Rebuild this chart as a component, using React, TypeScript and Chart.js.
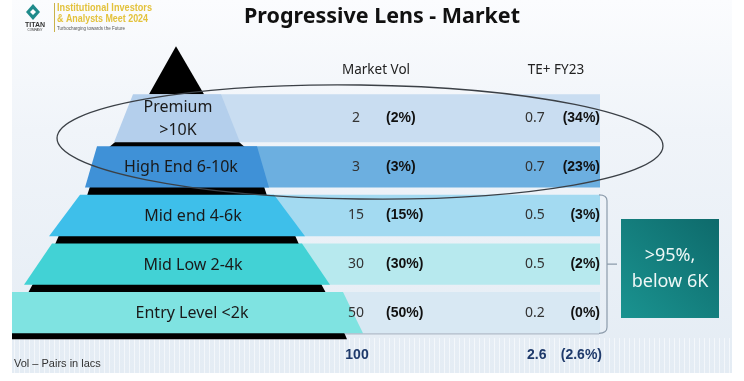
import React, { useEffect, useRef } from "react";
import { Chart, registerables } from "chart.js";

Chart.register(...registerables);

// ---------------- data ----------------
const tiers = ["Premium >10K", "High End 6-10k", "Mid end 4-6k", "Mid Low 2-4k", "Entry Level <2k"];
const tierLabelLines = [["Premium", ">10K"], ["High End 6-10k"], ["Mid end 4-6k"], ["Mid Low 2-4k"], ["Entry Level <2k"]];
const marketVol = [2, 3, 15, 30, 50];
const marketVolShare = [2, 3, 15, 30, 50];
const teVol = [0.7, 0.7, 0.5, 0.5, 0.2];
const teShare = [34, 23, 3, 2, 0];
const totalMarketVol = 100;
const totalTeVol = 2.6;
const totalTeShare = 2.6;
const columnHeaders = ["Market Vol", "TE+ FY23"];
const calloutLines = [">95%,", "below 6K"];
const footnote = "Vol \u2013 Pairs in lacs";
const title = "Progressive Lens - Market";

// ---------------- layout / style ----------------
const W = 744;
const H = 381;
const SLIDE = { l: 12, r: 732, t: 0, b: 373 };
const BAND_RANGE = [177, 600];
const BAND_COLORS = ["#c9ddf1", "#6cafe0", "#a3daf1", "#b7e9ee", "#d8e8f3"];
const TIER_COLORS = ["#b4cfec", "#3f91d7", "#3ebfea", "#42d2d5", "#7fe3e1"];
const PYR_CX = 177;
const TIER_HALF = [[44, 63], [80, 92], [97, 128], [125, 153], [166, 186]];
const STRIP_HALF = [[61, 68], [87, 90], [118, 122], [144, 149], [167, 170]];
const LABEL_X = [178, 181, 193, 193, 192];
const COL = { mvVal: 356, mvPct: 386, teVal: 525, tePctRight: 600 };

const fmt = (v: number) => String(v);

function trap(ctx: CanvasRenderingContext2D, cx: number, top: number, bot: number, ht: number, hb: number, color: string) {
  ctx.beginPath();
  ctx.moveTo(cx - ht, top);
  ctx.lineTo(cx + ht, top);
  ctx.lineTo(cx + hb, bot);
  ctx.lineTo(cx - hb, bot);
  ctx.closePath();
  ctx.fillStyle = color;
  ctx.fill();
}

const bgPlugin = {
  id: "bg",
  beforeDraw(chart: any) {
    const ctx = chart.ctx as CanvasRenderingContext2D;
    ctx.save();
    ctx.fillStyle = "#ffffff";
    ctx.fillRect(0, 0, W, H);
    const g = ctx.createLinearGradient(0, SLIDE.t, 0, SLIDE.b);
    g.addColorStop(0, "#fbfcfe");
    g.addColorStop(0.35, "#f0f4f9");
    g.addColorStop(1, "#e4ecf4");
    ctx.fillStyle = g;
    ctx.fillRect(SLIDE.l, SLIDE.t, SLIDE.r - SLIDE.l, SLIDE.b - SLIDE.t);
    // faint vertical stripes at the bottom
    ctx.strokeStyle = "rgba(255,255,255,0.55)";
    ctx.lineWidth = 1;
    for (let x = SLIDE.l + 2; x < SLIDE.r; x += 5) {
      ctx.beginPath();
      ctx.moveTo(x + 0.5, 338);
      ctx.lineTo(x + 0.5, SLIDE.b);
      ctx.stroke();
    }

    // logo
    ctx.fillStyle = "#1f8b8b";
    ctx.beginPath();
    ctx.moveTo(33, 4);
    ctx.lineTo(40, 12);
    ctx.lineTo(33, 20);
    ctx.lineTo(26, 12);
    ctx.closePath();
    ctx.fill();
    ctx.fillStyle = "#ffffff";
    ctx.beginPath();
    ctx.moveTo(33, 9);
    ctx.lineTo(36, 12);
    ctx.lineTo(33, 15);
    ctx.lineTo(30, 12);
    ctx.closePath();
    ctx.fill();
    ctx.fillStyle = "#333";
    ctx.font = "bold 7px 'Liberation Sans'";
    ctx.textAlign = "center";
    ctx.textBaseline = "middle";
    ctx.fillText("TITAN", 35, 25);
    ctx.font = "3px 'Liberation Sans'";
    ctx.fillText("COMPANY", 35, 30);
    ctx.strokeStyle = "#c9b24a";
    ctx.beginPath();
    ctx.moveTo(54.5, 3);
    ctx.lineTo(54.5, 32);
    ctx.stroke();
    ctx.textAlign = "left";
    ctx.fillStyle = "#e3c23c";
    ctx.font = "bold 10px 'Liberation Sans'";
    ctx.fillText("Institutional Investors", 57, 8, 95);
    ctx.fillText("& Analysts Meet 2024", 57, 19, 91);
    ctx.fillStyle = "#555";
    ctx.font = "5px 'Liberation Sans'";
    ctx.fillText("Turbocharging towards the Future", 57, 29, 68);

    // title
    ctx.fillStyle = "#111";
    ctx.font = "bold 21.5px 'Noto Sans'";
    ctx.textAlign = "center";
    ctx.fillText(title, 382, 17, 276);
    ctx.restore();
  },
};

function rowGeom(chart: any, i: number) {
  const ds = i === 0 ? 0 : 1;
  const el = chart.getDatasetMeta(ds).data[i];
  const p = el.getProps(["y", "height"], true);
  return { y: p.y, top: p.y - p.height / 2, bot: p.y + p.height / 2 };
}

const overlayPlugin = {
  id: "overlay",
  afterDatasetsDraw(chart: any) {
    const ctx = chart.ctx as CanvasRenderingContext2D;
    const xs = chart.scales.x;
    const ys = chart.scales.y;
    const X = (v: number) => xs.getPixelForValue(v);
    const step = ys.getPixelForValue(1) - ys.getPixelForValue(0);
    ctx.save();
    ctx.beginPath();
    ctx.rect(SLIDE.l, SLIDE.t, SLIDE.r - SLIDE.l, SLIDE.b - SLIDE.t);
    ctx.clip();

    const rows = tiers.map((_, i) => rowGeom(chart, i));
    const cx = X(PYR_CX);

    // black apex triangle
    ctx.fillStyle = "#000";
    ctx.beginPath();
    ctx.moveTo(cx - 1, rows[0].top - 48);
    ctx.lineTo(cx + 27, rows[0].top);
    ctx.lineTo(cx - 28, rows[0].top);
    ctx.closePath();
    ctx.fill();
    // black strips
    rows.forEach((r, i) => {
      const nextTop = i < rows.length - 1 ? rows[i + 1].top : r.bot + 5;
      trap(ctx, cx, r.bot - 1, nextTop + 1, STRIP_HALF[i][0], STRIP_HALF[i][1], "#000");
    });
    // tiers
    rows.forEach((r, i) => {
      trap(ctx, cx, r.top, r.bot, TIER_HALF[i][0], TIER_HALF[i][1], TIER_COLORS[i]);
    });
    // tier labels
    ctx.fillStyle = "#1a1a1a";
    ctx.font = "16px 'Noto Sans'";
    ctx.textAlign = "center";
    ctx.textBaseline = "middle";
    rows.forEach((r, i) => {
      const lines = tierLabelLines[i];
      const lh = 23;
      lines.forEach((t, k) => {
        ctx.fillText(t, X(LABEL_X[i]), r.y + 1 + (k - (lines.length - 1) / 2) * lh);
      });
    });

    // headers
    ctx.fillStyle = "#222";
    ctx.font = "13.5px 'Noto Sans'";
    const hy = rows[0].y - step;
    ctx.fillText(columnHeaders[0], X(376), hy);
    ctx.fillText(columnHeaders[1], X(556), hy);

    // values
    rows.forEach((r, i) => {
      ctx.fillStyle = "#333";
      ctx.font = "14px 'Noto Sans'";
      ctx.textAlign = "center";
      ctx.fillText(fmt(marketVol[i]), X(COL.mvVal), r.y);
      ctx.textAlign = "left";
      ctx.fillText(fmt(teVol[i]), X(COL.teVal), r.y);
      ctx.fillStyle = "#111";
      ctx.font = "bold 14px 'Liberation Sans'";
      ctx.fillText(`(${fmt(marketVolShare[i])}%)`, X(COL.mvPct), r.y);
      ctx.textAlign = "right";
      ctx.fillText(`(${fmt(teShare[i])}%)`, X(COL.tePctRight), r.y);
    });
    // totals
    const ty = rows[4].y + step * 0.875;
    ctx.fillStyle = "#1f3a6b";
    ctx.font = "bold 14px 'Liberation Sans'";
    ctx.textAlign = "center";
    ctx.fillText(fmt(totalMarketVol), X(COL.mvVal + 1), ty);
    ctx.textAlign = "left";
    ctx.fillText(fmt(totalTeVol), X(COL.teVal + 2), ty);
    ctx.textAlign = "right";
    ctx.fillText(`(${fmt(totalTeShare)}%)`, X(COL.tePctRight + 2), ty);

    // footnote
    ctx.fillStyle = "#333";
    ctx.font = "11px 'Liberation Sans'";
    ctx.textAlign = "left";
    ctx.fillText(footnote, X(14), ty + 9);

    // ellipse
    ctx.strokeStyle = "#3b4046";
    ctx.lineWidth = 1.3;
    ctx.beginPath();
    ctx.ellipse(X(360), 142, 303, 57, 0.013, 0, Math.PI * 2);
    ctx.stroke();

    // bracket
    const bTop = rows[2].top;
    const bBot = rows[4].bot;
    const bx = X(607);
    ctx.strokeStyle = "#8c9bab";
    ctx.lineWidth = 1.2;
    ctx.beginPath();
    ctx.moveTo(X(599), bTop);
    ctx.quadraticCurveTo(bx, bTop, bx, bTop + 6);
    ctx.lineTo(bx, bBot - 6);
    ctx.quadraticCurveTo(bx, bBot, X(599), bBot);
    ctx.moveTo(bx, rows[3].y);
    ctx.lineTo(X(617), rows[3].y);
    ctx.stroke();
    ctx.strokeStyle = "rgba(140,155,171,0.6)";
    ctx.beginPath();
    ctx.moveTo(X(345), bBot + 0.5);
    ctx.lineTo(X(599), bBot + 0.5);
    ctx.stroke();

    // callout box
    const bx0 = X(621), bx1 = X(719), by0 = 219, by1 = 318;
    const g = ctx.createLinearGradient(bx0, by1, bx1, by0);
    g.addColorStop(0, "#1a9390");
    g.addColorStop(1, "#0e6a6b");
    ctx.fillStyle = g;
    ctx.fillRect(bx0, by0, bx1 - bx0, by1 - by0);
    ctx.fillStyle = "#eef7f6";
    ctx.font = "18px 'Noto Sans'";
    ctx.textAlign = "center";
    ctx.fillText(calloutLines[0], (bx0 + bx1) / 2, 256);
    ctx.fillText(calloutLines[1], (bx0 + bx1) / 2, 282);

    ctx.restore();
  },
};

export default function App() {
  const ref = useRef<HTMLCanvasElement | null>(null);
  useEffect(() => {
    if (!ref.current) return;
    const chart = new Chart(ref.current, {
      type: "bar",
      data: {
        labels: tiers,
        datasets: [
          {
            label: "premium band",
            data: tiers.map((_, i) => (i === 0 ? BAND_RANGE : null)) as any,
            backgroundColor: BAND_COLORS,
            barPercentage: 0.99,
            categoryPercentage: 1,
            grouped: false,
          } as any,
          {
            label: "bands",
            data: tiers.map((_, i) => (i === 0 ? null : BAND_RANGE)) as any,
            backgroundColor: BAND_COLORS,
            barPercentage: 0.85,
            categoryPercentage: 1,
            grouped: false,
          } as any,
        ],
      },
      options: {
        indexAxis: "y",
        responsive: false,
        animation: false,
        devicePixelRatio: 1,
        events: [],
        layout: { padding: { top: 94, bottom: 44, left: 0, right: 0 } },
        scales: {
          x: { type: "linear", min: 0, max: W, display: false },
          y: { display: false },
        },
        plugins: { legend: { display: false }, tooltip: { enabled: false } },
      },
      plugins: [bgPlugin, overlayPlugin],
    });
    return () => chart.destroy();
  }, []);
  return (
    <div style={{ position: "fixed", left: 0, top: 0, width: W, height: H }}>
      <canvas ref={ref} width={W} height={H} style={{ width: W, height: H, display: "block" }} />
    </div>
  );
}
